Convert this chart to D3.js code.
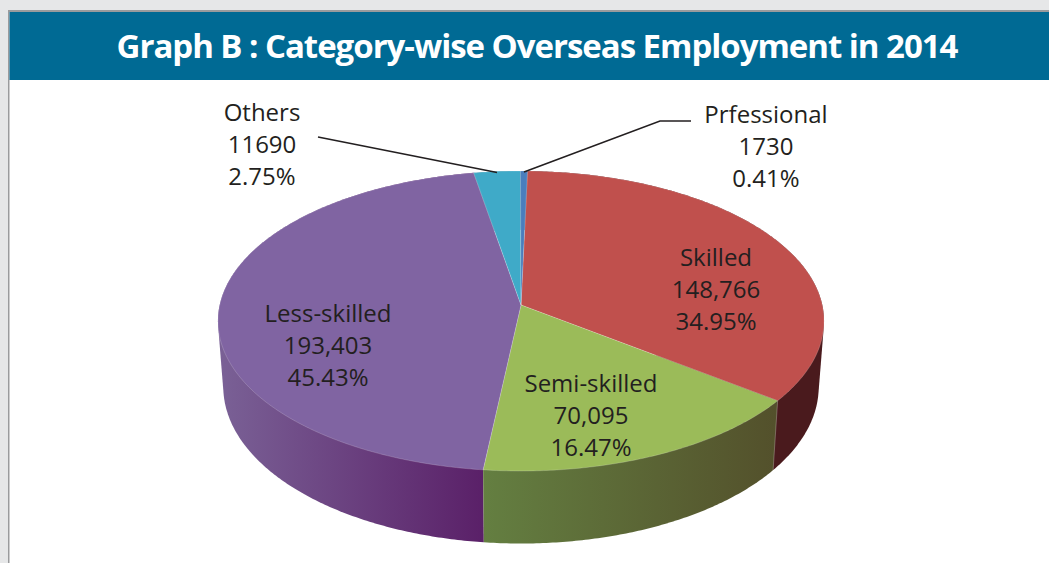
<!DOCTYPE html>
<html>
<head>
<meta charset="utf-8">
<script src="https://cdn.jsdelivr.net/npm/d3@7"></script>
<style>
  html, body { margin: 0; padding: 0; background: #e6e7e8; overflow: hidden; }
  svg { display: block; }
  text { font-family: "Open Sans", sans-serif; fill: #231f20; }
</style>
</head>
<body>
<svg id="chart" width="1049" height="563"></svg>
<script>
// Overseas employment in 2014, by skill category, clockwise from the top
const categories = ["Skilled", "Semi-skilled", "Less-skilled", "Others", "Prfessional"];
const workers = [148766, 70095, 193403, 11690, 1730];
const workerLabels = ["148,766", "70,095", "193,403", "11690", "1730"];
const topColors = ["#c0504d", "#9bbb59", "#8064a2", "#3faac8", "#4a7ebd"];
const wallLeftColors = ["#4a1a1d", "#647f41", "#7a6196", "#2e7f96", "#2f5a8c"];
const wallRightColors = ["#4a1a1d", "#53502b", "#5a2068", "#2e7f96", "#2f5a8c"];

const title = "Graph B : Category-wise Overseas Employment in 2014";

const svg = d3.select("#chart");
const W = 1049, H = 563;

// Page panel with its header band
svg.append("rect").attr("x", 8).attr("y", 10).attr("width", W - 8).attr("height", H - 10).attr("fill", "#9a9b9d");
svg.append("rect").attr("x", 9.5).attr("y", 12).attr("width", W - 9.5).attr("height", H - 12).attr("fill", "#ffffff");
svg.append("rect").attr("x", 9.5).attr("y", 12).attr("width", W - 9.5).attr("height", 68).attr("fill", "#006a94");
svg.append("text").attr("x", 537).attr("y", 57.5).attr("text-anchor", "middle")
  .attr("font-size", 33).attr("font-weight", 700).attr("letter-spacing", -1.03)
  .style("fill", "#ffffff").text(title);

// Slice angles
const startAngle = 1.36 * Math.PI / 180;
const slices = d3.pie().sort(null).startAngle(startAngle).endAngle(startAngle + 2 * Math.PI)(workers);
const total = d3.sum(workers);
const pct = d3.format(".2%");

// The disc is seen in perspective: a circle maps to an ellipse whose
// centre of rotation sits above the ellipse's geometric centre.
const depth = -0.1067;
function projector(cx, cy, spread, slant) {
  return angle => {
    const u = Math.sin(angle), v = -Math.cos(angle);
    const w = 1 + depth * v;
    return [cx + spread * u / w, cy + slant * v / w];
  };
}
const hub = [521, 305];
const upperRim = projector(hub[0], hub[1], 301.3, 148.3);
const lowerRim = projector(hub[0], 370, 296, 155);

const arcPoints = (project, a0, a1) => {
  const n = Math.max(2, Math.ceil((a1 - a0) / 0.01));
  return d3.range(n + 1).map(i => project(a0 + (a1 - a0) * i / n));
};

const line = d3.line().curve(d3.curveLinearClosed);
const defs = svg.append("defs");

// Side walls, nearest slices painted last
const wallOrder = [3, 4, 0, 2, 1];
wallOrder.forEach(i => {
  const s = slices[i];
  const pts = arcPoints(upperRim, s.startAngle, s.endAngle).concat(arcPoints(lowerRim, s.startAngle, s.endAngle));
  const hull = d3.polygonHull(pts);
  const [x0, x1] = d3.extent(pts, p => p[0]);
  const id = "wall" + i;
  const g = defs.append("linearGradient").attr("id", id)
    .attr("gradientUnits", "userSpaceOnUse")
    .attr("x1", x0).attr("x2", x1).attr("y1", 0).attr("y2", 0);
  g.append("stop").attr("offset", 0).attr("stop-color", wallLeftColors[i]);
  g.append("stop").attr("offset", 1).attr("stop-color", wallRightColors[i]);
  svg.append("path").attr("d", line(hull)).attr("fill", `url(#${id})`);
});

// Thin seam at the front edge between green and red walls
const seam = slices[0].endAngle;
svg.append("line")
  .attr("x1", upperRim(seam)[0]).attr("y1", upperRim(seam)[1])
  .attr("x2", lowerRim(seam)[0]).attr("y2", lowerRim(seam)[1])
  .attr("stroke", "#ffffff").attr("stroke-opacity", 0.35).attr("stroke-width", 0.75);

// Top faces
slices.forEach((s, i) => {
  const pts = [hub].concat(arcPoints(upperRim, s.startAngle, s.endAngle));
  svg.append("path").attr("d", line(pts))
    .attr("fill", topColors[i])
    .attr("stroke", "#ffffff").attr("stroke-opacity", 0.3).attr("stroke-width", 0.6);
});

// Leader lines for the two thin slices at the back
const leaders = [
  { slice: 3, path: [[318, 137]] },
  { slice: 4, path: [[691, 121], [660, 121]] }
];
leaders.forEach(l => {
  const s = slices[l.slice];
  const tip = upperRim((s.startAngle + s.endAngle) / 2);
  svg.append("path")
    .attr("d", d3.line()(l.path.concat([[tip[0], tip[1] + 1]])))
    .attr("fill", "none").attr("stroke", "#231f20").attr("stroke-width", 1.6);
});

// Slice labels: name, head count, share of the total
const labelAnchors = [[716, 266], [591, 392], [328, 322], [262, 120.5], [766, 123]];
slices.forEach((s, i) => {
  const [x, y] = labelAnchors[i];
  const rows = [categories[i], workerLabels[i], pct(workers[i] / total)];
  const t = svg.append("text").attr("text-anchor", "middle").attr("font-size", 24);
  rows.forEach((r, k) => {
    t.append("tspan").attr("x", x).attr("y", y + k * 32).text(r);
  });
});
</script>
</body>
</html>
